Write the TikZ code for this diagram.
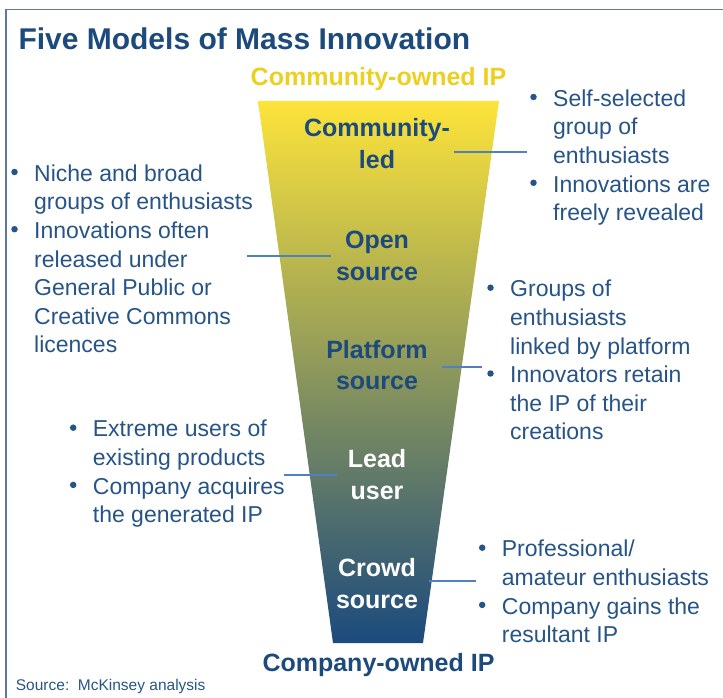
\documentclass[tikz,border=0pt]{standalone}
\usepackage{fontspec}
\setmainfont{Liberation Sans}
\usetikzlibrary{calc}
\definecolor{navy}{RGB}{28,74,124}
\definecolor{txtblue}{RGB}{38,84,135}
\definecolor{linkblue}{RGB}{79,129,192}
\definecolor{gold}{RGB}{236,208,32}
\definecolor{funtop}{RGB}{253,228,58}
\definecolor{funbot}{RGB}{27,74,125}
\definecolor{framecol}{RGB}{92,122,160}
\tikzset{
  bulletitem/.style={anchor=north west, inner sep=0pt, align=left, text=txtblue, font=\fontsize{23}{28.6}\selectfont},
  bulletdot/.style={circle, fill=txtblue, inner sep=0pt, minimum size=6.5pt},
  model/.style={anchor=north, inner sep=0pt, align=center, font=\fontsize{25}{31.6}\selectfont\bfseries},
  iplabel/.style={anchor=base, inner sep=0pt, font=\fontsize{25}{30}\selectfont\bfseries},
  link/.style={linkblue, line width=1.9pt}
}

\begin{document}
\begin{tikzpicture}[x=1pt, y=-1pt]
\useasboundingbox (0,0) rectangle (723,698);
\draw[framecol, line width=1.5pt] (723,9.3) -- (6,9.3) -- (6,698);
\node[anchor=base west, inner sep=0pt, text=navy, font=\fontsize{30}{36}\selectfont\bfseries] (title) at (18.3,50) {Five Models of Mass Innovation};

\shade[top color=funtop, bottom color=funbot] (258,101) -- (499,101) -- (423,643) -- (333,643) -- cycle;
\node[iplabel, text=gold] (topip) at (378.5,86) {Community-owned IP};
\node[iplabel, text=navy] (botip) at (378.5,671.7) {Company-owned IP};
\foreach \y/\t/\c [count=\i] in {136.7/{Community-\\led}/navy, 248.3/{Open\\source}/navy, 358/{Platform\\source}/navy, 467.7/{Lead\\user}/white, 576.7/{Crowd\\source}/white}
  \node[model, text=\c] (model\i) at (377,\y-22.12) {\strut\t};

\node[bulletitem] (r1a) at (553,86) {\strut Self-selected\\group of\\enthusiasts};
\node[bulletitem] (r1b) at (553,171.8) {\strut Innovations are\\freely revealed};
\node[bulletitem] (l1a) at (34,161) {\strut Niche and broad\\groups of enthusiasts};
\node[bulletitem] (l1b) at (34,218.2) {\strut Innovations often\\released under\\General Public or\\Creative Commons\\licences};
\node[bulletitem] (r2a) at (510,276.7) {\strut Groups of\\enthusiasts\\linked by platform};
\node[bulletitem] (r2b) at (510,362.5) {\strut Innovators retain\\the IP of their\\creations};
\node[bulletitem] (l3a) at (92.7,416.7) {\strut Extreme users of\\existing products};
\node[bulletitem] (l3b) at (92.7,473.9) {\strut Company acquires\\the generated IP};
\node[bulletitem] (r4a) at (501.7,536.7) {\strut Professional/\\amateur enthusiasts};
\node[bulletitem] (r4b) at (501.7,593.9) {\strut Company gains the\\resultant IP};
\foreach \n in {r1a,r1b,l1a,l1b,r2a,r2b,l3a,l3b,r4a,r4b}
  \node[bulletdot] (dot-\n) at ([shift={(-19.5,11)}]\n.north west) {};

\foreach \i/\xa/\xb/\y in {1/454/527/152, 2/247/331/255.7, 3/442/482/366.7, 4/284/337/475, 5/429/476/580.7} {
  \coordinate (from\i) at (\xa,\y);
  \coordinate (to\i) at (\xb,\y);
  \draw[link] (from\i) -- (to\i);
}

\node[anchor=base west, inner sep=0pt, text=txtblue, font=\fontsize{15.5}{18}\selectfont] (source) at (15.7,690) {Source:~~McKinsey analysis};
\end{tikzpicture}
\end{document}
